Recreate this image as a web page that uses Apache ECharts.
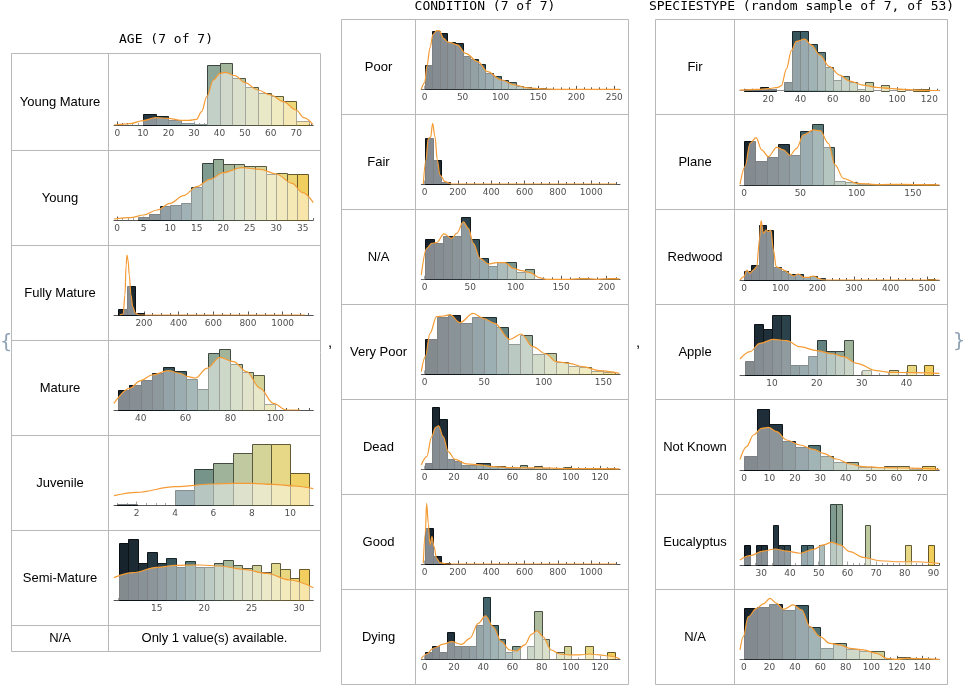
<!DOCTYPE html>
<html><head><meta charset="utf-8">
<script src="https://cdn.jsdelivr.net/npm/echarts@6/dist/echarts.min.js"></script>
<style>html,body{margin:0;padding:0;background:#fff}#c{width:964px;height:690px}</style>
</head><body><div id="c"></div>
<script>
// ---------------- categories / titles ----------------
const tableTitles = ['AGE (7 of 7)', 'CONDITION (7 of 7)', 'SPECIESTYPE (random sample of 7, of 53)'];
const ageLabels = ['Young Mature', 'Young', 'Fully Mature', 'Mature', 'Juvenile', 'Semi-Mature', 'N/A'];
const conditionLabels = ['Poor', 'Fair', 'N/A', 'Very Poor', 'Dead', 'Good', 'Dying'];
const speciesLabels = ['Fir', 'Plane', 'Redwood', 'Apple', 'Not Known', 'Eucalyptus', 'N/A'];
const ageNAMessage = 'Only 1 value(s) available.';

// ---------------- AGE ----------------
const ageBinStart = [10, 4, 50, 30, 1, 11];
const ageBinWidth = [5, 2, 50, 5, 1, 1];
const ageXRange = [[-1.3, 76.7], [-0.6, 37], [27, 1177], [28.1, 116.9], [0.82, 11.2], [10.5, 31.5]];
const ageTicks = [[0, 10, 20, 30, 40, 50, 60, 70], [0, 5, 10, 15, 20, 25, 30, 35], [200, 400, 600, 800, 1000], [40, 60, 80, 100], [2, 4, 6, 8, 10], [15, 20, 25, 30]];
const ageMinorStep = [2, 1, 50, 5, 0.5, 1];
const ageYMax = [198, 198, 198, 198, 198, 198];

const youngMatureCounts = [33, 27, 15, 6, 3, 180, 185, 140, 115, 95, 87, 73, 12];
const youngMatureKde = [[-1.3, 0], [0, 1], [5, 4], [10, 13], [15, 22], [20, 20], [25, 14], [28, 14], [31, 17], [33, 40], [35, 85], [37.6, 135], [40.2, 155], [42.4, 158], [46, 148], [50, 127], [55, 105], [60, 90], [65, 70], [70, 45], [73, 22], [76.5, 2]];
const youngCounts = [8, 18, 42, 44, 52, 98, 170, 183, 168, 169, 162, 161, 137, 142, 139, 139];
const youngKde = [[-0.6, 3], [2.5, 7], [5, 15], [7.5, 30], [10, 50], [12.5, 73], [15, 100], [17.5, 122], [20, 142], [23.5, 157], [27, 152], [30, 138], [33, 110], [35, 82], [37, 52]];
const fullyMatureCounts = [17, 87, 5];
const fullyMatureKde = [[60, 0], [80, 3], [90, 60], [97, 150], [102, 180], [108, 165], [115, 120], [125, 60], [135, 25], [150, 6], [170, 0], [1130, 0]];
const matureCounts = [60, 74, 90, 110, 128, 116, 92, 62, 170, 182, 137, 113, 104, 17];
const matureKde = [[28.1, 20], [35, 65], [40, 88], [45, 105], [52.3, 118], [57.5, 110], [61, 100], [64.5, 96], [69.4, 125], [75.3, 158], [81.3, 145], [87.2, 115], [93.2, 65], [99.1, 20], [105, 0], [111, 0]];
const juvenileCounts = [3, 0, 0, 45, 107, 125, 155, 182, 182, 95];
const juvenileKde = [[0.82, 28], [2, 38], [4, 55], [6, 63], [7, 65], [8, 65], [9.1, 62], [10.2, 57], [11.2, 49]];
const semiMatureCounts = [170, 183, 110, 143, 110, 125, 98, 116, 100, 100, 110, 119, 106, 95, 104, 83, 110, 92, 65, 92];
const semiMatureKde = [[10.5, 67], [12.5, 82], [15, 98], [17, 104], [19.6, 105], [21.7, 102], [24.1, 92], [26.6, 80], [29, 60], [31.5, 37]];

// ---------------- CONDITION ----------------
const condBinStart = [0, 0, 0, 0, 0, 0, 0];
const condBinWidth = [10, 50, 10, 10, 5, 50, 5];
const condXRange = [[-4.5, 257.6], [-20, 1173], [-3.7, 214.6], [-2.8, 164], [-2.3, 133.6], [-20, 1173], [-2.3, 133.6]];
const condTicks = [[0, 50, 100, 150, 200, 250], [0, 200, 400, 600, 800, 1000], [0, 50, 100, 150, 200], [0, 50, 100, 150], [0, 20, 40, 60, 80, 100, 120], [0, 200, 400, 600, 800, 1000], [0, 20, 40, 60, 80, 100, 120]];
const condMinorStep = [10, 50, 10, 10, 5, 50, 5];
const condYMax = [198, 198, 198, 198, 198, 198, 9.57];

const poorCounts = [73, 176, 170, 141, 138, 100, 90, 75, 48, 40, 28, 21, 11, 6, 3, 4, 1];
const poorKde = [[-4.5, 0], [0, 20], [3, 70], [7, 125], [11, 165], [16, 176], [19, 176], [25, 153], [30, 142], [34, 140], [43, 133], [54, 108], [70, 83], [83, 53], [101, 28], [119, 13], [136, 4], [154, 1], [176, 0], [257, 0]];
const fairCounts = [137, 72, 7];
const fairKde = [[-8, 0], [8, 72], [22, 137], [36, 140], [48, 182], [62, 142], [76, 72], [92, 27], [122, 7], [163, 0], [1150, 0]];
const condNACounts = [120, 110, 130, 130, 186, 120, 63, 40, 52, 52, 23, 32, 0, 0, 0, 0, 0, 4, 0, 0, 5];
const condNAKde = [[-3.7, 13], [2.2, 93], [7.7, 108], [13.2, 110], [21.2, 136], [29.7, 123], [35.2, 138], [42.5, 172], [48, 153], [53.5, 108], [60.8, 63], [70, 46], [79.1, 50], [88.3, 50], [97.4, 33], [106.6, 26], [115.8, 20], [126.7, 4], [134, 0], [160, 0], [175, 2], [190, 0], [203, 2], [214, 1]];
const veryPoorCounts = [104, 172, 178, 152, 172, 172, 142, 90, 117, 60, 64, 35, 25, 22, 10, 7];
const veryPoorKde = [[-2.8, 7], [0.6, 52], [4.5, 122], [10, 172], [15.6, 174], [21.2, 178], [29.6, 154], [40.7, 182], [49.1, 167], [58.8, 152], [71.4, 104], [81.1, 120], [90.9, 82], [102, 60], [110.4, 37], [121.6, 32], [132.7, 22], [146.7, 10], [163.4, 2]];
const deadCounts = [20, 188, 150, 31, 26, 12, 12, 20, 20, 10, 10, 5, 5, 13, 4, 10, 4, 2, 3, 7, 2, 0, 2, 4, 2, 4];
const deadKde = [[-2.3, 13], [1.4, 38], [4.8, 98], [7.5, 126], [9.5, 130], [12.7, 98], [16.1, 53], [20.7, 30], [28.6, 16], [37.7, 13], [46.8, 8], [60.5, 5], [78.6, 4], [101.4, 2], [133.2, 1]];
const goodCounts = [109, 24, 3];
const goodKde = [[-8, 2], [4, 92], [12, 182], [22, 122], [32, 57], [44, 82], [56, 52], [72, 17], [92, 4], [133, 0], [1150, 0]];
const dyingCounts = [1, 2, 1, 4, 2, 2, 2, 5, 9, 5, 3, 1, 2, 0, 2, 7, 3, 0, 1, 2, 0, 0, 2, 0, 0, 1];
const dyingKde = [[-2.3, 0.1], [1.4, 0.77], [5.9, 1.6], [12.7, 2.2], [18.4, 2.56], [25.2, 2.17], [30.9, 3.04], [36.6, 5.2], [41.6, 6.3], [46.8, 4.7], [52.5, 2.56], [58.2, 1.35], [62.7, 1.2], [68.4, 2.08], [73, 3.6], [76.8, 4.15], [80.9, 3.3], [86.6, 1.35], [92.3, 0.77], [99.1, 0.63], [105.9, 0.63], [112.7, 0.77], [119.5, 0.63], [126.4, 0.48], [133.2, 0.1]];

// ---------------- SPECIESTYPE ----------------
const specBinStart = [5, 0, 0, 4, 0, 24, 0];
const specBinWidth = [5, 10, 20, 2, 5, 2, 10];
const specXRange = [[2.5, 126.2], [-3.6, 173.4], [-11, 533], [2.87, 47.3], [-1.6, 76.8], [22.6, 92], [-3.1, 153.4]];
const specTicks = [[20, 40, 60, 80, 100, 120], [0, 50, 100, 150], [0, 100, 200, 300, 400, 500], [10, 20, 30, 40], [0, 10, 20, 30, 40, 50, 60, 70], [30, 40, 50, 60, 70, 80, 90], [0, 20, 40, 60, 80, 100, 120, 140]];
const specMinorStep = [5, 10, 20, 2, 2, 2, 5];
const specYMax = [198, 198, 198, 198, 198, 3.26, 198];

const firCounts = [4, 4, 10, 6, 0, 25, 179, 179, 140, 116, 70, 32, 44, 25, 6, 25, 0, 16, 0, 4, 0, 4, 4];
const firKde = [[2.5, 2], [12.8, 4], [20, 6], [26.2, 10], [28.2, 15], [31.3, 65], [34.4, 120], [37.5, 148], [42.7, 155], [46.8, 137], [52, 107], [58.1, 72], [64.3, 47], [70.5, 29], [78.8, 17], [87, 10], [95.3, 7], [103.5, 4], [111.8, 2], [126.2, 0]];
const planeCounts = [132, 74, 86, 124, 91, 164, 183, 116, 14, 10, 3, 4, 2, 1, 3, 3, 3];
const planeKde = [[-3.6, 3], [0.9, 56], [5.3, 126], [10.7, 143], [15.7, 106], [21.6, 86], [29, 114], [34.9, 106], [40.8, 90], [46.7, 111], [52.7, 151], [61.5, 166], [67.5, 164], [74.9, 126], [80.8, 61], [88.2, 21], [100, 6], [117.8, 2], [141.4, 3], [173.4, 1]];
const redwoodCounts = [28, 45, 165, 150, 40, 28, 18, 18, 10, 12, 7, 0, 0, 0, 0, 0, 0, 0, 0, 0, 0, 0, 0, 0, 0, 3];
const redwoodKde = [[-11, 0], [0, 10], [7.3, 30], [16.4, 20], [25.5, 30], [34.7, 40], [42, 120], [46.5, 178], [52.9, 140], [60.2, 150], [66.6, 145], [73, 150], [80.3, 90], [87.6, 40], [98.5, 35], [112.2, 28], [125.9, 18], [135, 12], [148.7, 18], [162.4, 8], [176, 8], [189.8, 12], [203.5, 5], [217, 0], [533, 0]];
const appleCounts = [43, 152, 137, 181, 181, 29, 29, 58, 105, 73, 73, 105, 0, 14, 0, 0, 14, 0, 29, 0, 29];
const appleKde = [[2.87, 48], [5.1, 70], [7.3, 95], [10.3, 107], [13.3, 103], [16.2, 85], [20, 73], [23.7, 63], [25.9, 55], [28.9, 35], [33.3, 13], [36.3, 8], [42.2, 7], [47.3, 5]];
const notKnownCounts = [42, 183, 137, 87, 68, 75, 42, 23, 23, 8, 8, 11, 11, 4, 11];
const notKnownKde = [[-1.6, 32], [1, 70], [3.7, 105], [6.9, 125], [9.6, 128], [12.8, 115], [16.8, 90], [22, 75], [27.3, 62], [31.2, 50], [36.4, 33], [41.7, 18], [46.9, 10], [54.8, 7], [62.6, 6], [69.2, 5], [76.8, 2]];
const eucalyptusCounts = [1, 0, 1, 1, 0, 2, 1, 1, 0, 0, 1, 1, 0, 1, 0, 3, 3, 0, 0, 0, 0, 2, 0, 0, 0, 0, 0, 0, 1, 0, 0, 0, 1];
const eucalyptusKde = [[22.6, 0.25], [26.1, 0.46], [30.7, 0.69], [34.8, 0.79], [38.8, 0.69], [43.5, 0.58], [48.1, 0.77], [51.6, 0.99], [54.5, 1.12], [57.4, 0.99], [60.9, 0.66], [65.5, 0.38], [71.3, 0.21], [78.3, 0.16], [84.1, 0.16], [92, 0.08]];
const speciesNACounts = [153, 156, 166, 148, 163, 98, 35, 48, 30, 25, 25, 2, 8, 2, 2];
const speciesNAKde = [[-3.1, 28], [-0.5, 68], [3.4, 128], [9.9, 153], [15.2, 166], [20.4, 183], [25.7, 168], [30.9, 150], [38.7, 163], [45.3, 148], [51.8, 98], [59.7, 68], [67.5, 48], [75.4, 43], [83.2, 33], [93.7, 28], [104.2, 18], [112, 3], [119.9, 0], [127.7, 3], [153.4, 0]];

// ---------------- layout (pixels) ----------------
const tableLayout = [
  { xs: [11.5, 108.5, 320.5], ys: [53.5, 150.5, 245.5, 340.5, 435.5, 530.5, 625.5, 651.5], titleY: 40, plotX: 114, plotW: 199.3, axisY: [125, 220, 315, 410, 505, 600] },
  { xs: [341.5, 415.5, 628.5], ys: [19.5, 114.5, 209.5, 304.5, 399.5, 494.5, 589.5, 684.5], titleY: 7, plotX: 421.3, plotW: 198.7, axisY: [89.3, 184, 279.3, 374, 469.3, 564, 659.3] },
  { xs: [655.5, 734.5, 947.5], ys: [19.5, 114.5, 209.5, 304.5, 399.5, 494.5, 589.5, 684.5], titleY: 7, plotX: 740, plotW: 199.3, axisY: [90.7, 185.3, 280, 375, 470, 565, 659.3] }
];
const PLOT_H = 66;

const tableData = [
  { labels: ageLabels, start: ageBinStart, width: ageBinWidth, range: ageXRange, ticks: ageTicks, minor: ageMinorStep, ymax: ageYMax,
    counts: [youngMatureCounts, youngCounts, fullyMatureCounts, matureCounts, juvenileCounts, semiMatureCounts],
    kde: [youngMatureKde, youngKde, fullyMatureKde, matureKde, juvenileKde, semiMatureKde] },
  { labels: conditionLabels, start: condBinStart, width: condBinWidth, range: condXRange, ticks: condTicks, minor: condMinorStep, ymax: condYMax,
    counts: [poorCounts, fairCounts, condNACounts, veryPoorCounts, deadCounts, goodCounts, dyingCounts],
    kde: [poorKde, fairKde, condNAKde, veryPoorKde, deadKde, goodKde, dyingKde] },
  { labels: speciesLabels, start: specBinStart, width: specBinWidth, range: specXRange, ticks: specTicks, minor: specMinorStep, ymax: specYMax,
    counts: [firCounts, planeCounts, redwoodCounts, appleCounts, notKnownCounts, eucalyptusCounts, speciesNACounts],
    kde: [firKde, planeKde, redwoodKde, appleKde, notKnownKde, eucalyptusKde, speciesNAKde] }
];

// ---------------- colour map ----------------
const cmap = [[0, [19, 29, 39]], [0.2, [38, 57, 66]], [0.35, [70, 106, 112]], [0.5, [143, 168, 151]], [0.65, [194, 203, 160]], [0.8, [226, 218, 146]], [0.9, [238, 213, 114]], [1, [243, 200, 74]]];
function colorAt(t) {
  t = Math.max(0, Math.min(1, t));
  for (let i = 1; i < cmap.length; i++) {
    if (t <= cmap[i][0]) {
      const a = cmap[i - 1], b = cmap[i];
      const f = (t - a[0]) / (b[0] - a[0]);
      return a[1].map((v, k) => v + (b[1][k] - v) * f);
    }
  }
  return cmap[cmap.length - 1][1];
}
function rgb(c, f) { f = f || 1; return 'rgb(' + c.map(v => Math.round(v * f)).join(',') + ')'; }

// ---------------- build option ----------------
const grids = [], xAxes = [], yAxes = [], series = [], elements = [];
const labelFont = '13px "Liberation Sans", Arial, sans-serif';
let gi = 0;

tableLayout.forEach((L, ti) => {
  const D = tableData[ti];
  L.ys.forEach(y => elements.push({ type: 'line', silent: true, shape: { x1: L.xs[0], y1: y, x2: L.xs[2], y2: y }, style: { stroke: '#b8b8b8', lineWidth: 1 } }));
  L.xs.forEach(x => elements.push({ type: 'line', silent: true, shape: { x1: x, y1: L.ys[0], x2: x, y2: L.ys[L.ys.length - 1] }, style: { stroke: '#b8b8b8', lineWidth: 1 } }));
  elements.push({ type: 'text', silent: true, x: (L.xs[0] + L.xs[2]) / 2, y: L.titleY,
    style: { text: tableTitles[ti], font: '13px "DejaVu Sans Mono", "Liberation Mono", monospace', fill: '#000', textAlign: 'center', textVerticalAlign: 'middle' } });
  D.labels.forEach((lab, r) => {
    elements.push({ type: 'text', silent: true, x: (L.xs[0] + L.xs[1]) / 2, y: (L.ys[r] + L.ys[r + 1]) / 2,
      style: { text: lab, font: labelFont, fill: '#000', textAlign: 'center', textVerticalAlign: 'middle' } });
  });
  if (ti === 0) {
    elements.push({ type: 'text', silent: true, x: (L.xs[1] + L.xs[2]) / 2, y: (L.ys[6] + L.ys[7]) / 2,
      style: { text: ageNAMessage, font: labelFont, fill: '#000', textAlign: 'center', textVerticalAlign: 'middle' } });
  }
  D.counts.forEach((counts, r) => {
    const xmin = D.range[r][0], xmax = D.range[r][1];
    const bars = [];
    counts.forEach((c, k) => {
      if (c > 0) {
        const x0 = D.start[r] + k * D.width[r];
        bars.push([x0, x0 + D.width[r], c]);
      }
    });
    const minors = [];
    const step = D.minor[r];
    for (let v = Math.ceil(xmin / step) * step; v <= xmax + 1e-9; v += step) minors.push(+v.toFixed(4));
    grids.push({ left: L.plotX, top: L.axisY[r] - PLOT_H, width: L.plotW, height: PLOT_H, containLabel: false });
    const ax = gi * 2;
    xAxes.push({ gridIndex: gi, type: 'value', min: xmin, max: xmax, position: 'bottom', z: 1,
      axisLine: { show: true, onZero: false, lineStyle: { color: '#555', width: 1 } },
      axisTick: { show: true, inside: true, length: 3.5, customValues: D.ticks[r], lineStyle: { color: '#555', width: 1 } },
      axisLabel: { show: true, customValues: D.ticks[r], formatter: v => String(v), fontFamily: '"DejaVu Sans", sans-serif', fontSize: 9, color: '#505050', margin: 4 },
      splitLine: { show: false } });
    xAxes.push({ gridIndex: gi, type: 'value', min: xmin, max: xmax, position: 'bottom', z: 1,
      axisLine: { show: false, onZero: false },
      axisTick: { show: true, inside: true, length: 2, customValues: minors, lineStyle: { color: '#555', width: 1 } },
      axisLabel: { show: false }, splitLine: { show: false } });
    yAxes.push({ gridIndex: gi, type: 'value', min: 0, max: D.ymax[r], show: false });
    series.push({
      type: 'custom', xAxisIndex: ax, yAxisIndex: gi, data: bars, silent: true, animation: false, z: 2,
      encode: { x: [0, 1], y: 2 },
      renderItem: (params, api) => {
        const a = api.value(0), b = api.value(1), c = api.value(2);
        const p0 = api.coord([a, c]), p1 = api.coord([b, 0]);
        const t = ((a + b) / 2 - xmin) / (xmax - xmin);
        const col = colorAt(t);
        const X0 = Math.round(p0[0]) + 0.5, X1 = Math.round(p1[0]) + 0.5;
        const Y0 = Math.round(p0[1]) + 0.5, Y1 = Math.round(p1[1]) + 0.5;
        return { type: 'rect', shape: { x: X0, y: Y0, width: X1 - X0, height: Y1 - Y0 },
          style: { fill: rgb(col), stroke: rgb(col, 0.42), lineWidth: 1 } };
      }
    });
    series.push({
      type: 'line', xAxisIndex: ax, yAxisIndex: gi, data: D.kde[r], silent: true, animation: false, z: 3,
      smooth: 0.35, smoothMonotone: 'x', showSymbol: false, symbol: 'none',
      lineStyle: { color: '#f59b34', width: 1.2 },
      areaStyle: { color: 'rgba(255,255,255,0.47)', opacity: 1 }
    });
    gi++;
  });
});

const bigFont = '20px "DejaVu Sans", sans-serif';
elements.push({ type: 'text', silent: true, x: 6, y: 343, style: { text: '{', font: bigFont, fill: '#8ea2b3', textAlign: 'center', textVerticalAlign: 'middle' } });
elements.push({ type: 'text', silent: true, x: 959, y: 342, style: { text: '}', font: bigFont, fill: '#8ea2b3', textAlign: 'center', textVerticalAlign: 'middle' } });
elements.push({ type: 'text', silent: true, x: 330, y: 343, style: { text: ',', font: '15px "Liberation Sans", sans-serif', fill: '#000', textAlign: 'center', textVerticalAlign: 'middle' } });
elements.push({ type: 'text', silent: true, x: 638, y: 343, style: { text: ',', font: '15px "Liberation Sans", sans-serif', fill: '#000', textAlign: 'center', textVerticalAlign: 'middle' } });

const chart = echarts.init(document.getElementById('c'), null, { renderer: 'canvas' });
chart.setOption({
  animation: false,
  backgroundColor: '#ffffff',
  grid: grids, xAxis: xAxes, yAxis: yAxes, series: series,
  graphic: { elements: elements }
});
</script>
</body></html>
